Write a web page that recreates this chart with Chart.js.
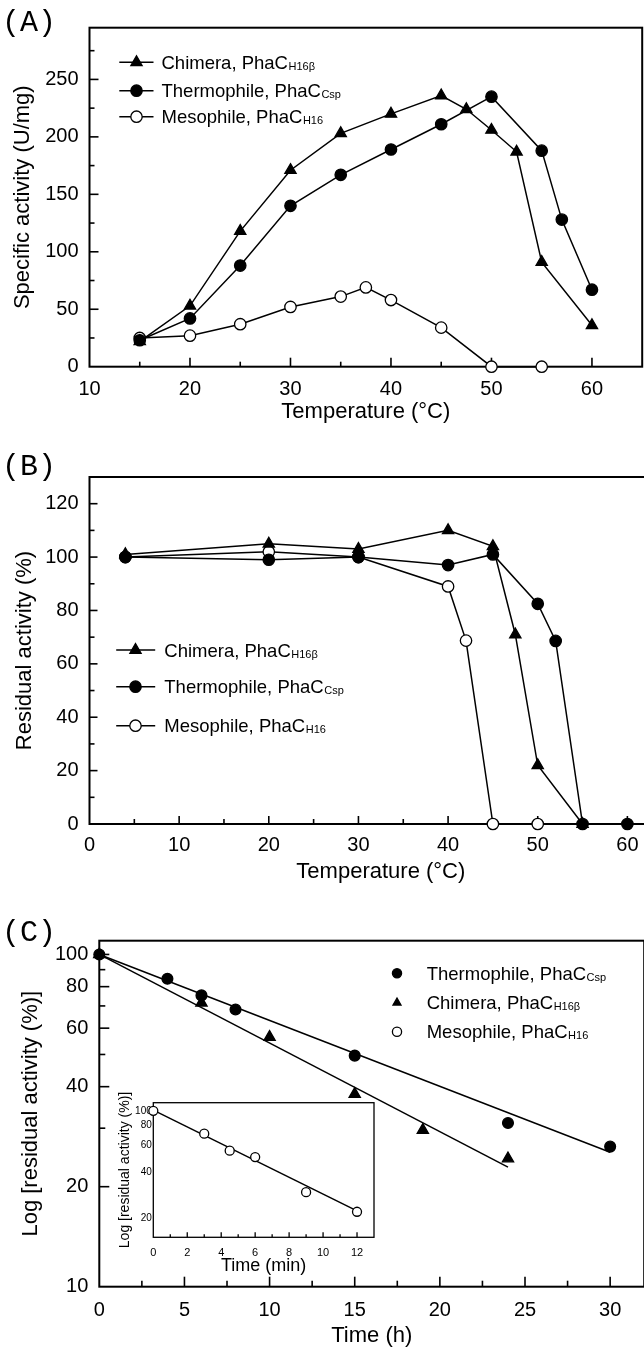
<!DOCTYPE html>
<html>
<head>
<meta charset="utf-8">
<title>PhaC activity and thermostability</title>
<script src="https://cdn.jsdelivr.net/npm/chart.js@4.4.1/dist/chart.umd.min.js"></script>
<style>
  html, body { margin: 0; padding: 0; background: #fff; }
  body { position: relative; width: 644px; height: 1349px; overflow: hidden; }
  canvas { position: absolute; left: 0; }
  .tag { position: absolute; left: 2px; font-family: "Liberation Mono", "Courier New", monospace; font-size: 30px; line-height: 30px; color: #000; }
</style>
</head>
<body>
<canvas id="chartA" width="650" height="425" style="top:0px"></canvas>
<canvas id="chartB" width="680" height="455" style="top:430px"></canvas>
<canvas id="chartC" width="652" height="449" style="top:900px"></canvas>
<canvas id="chartInset" width="300" height="190" style="top:1090px;left:90px"></canvas>
<div class="tag" style="top:8px">(A)</div>
<div class="tag" style="top:452px">(B)</div>
<div class="tag" style="top:918px">(C)</div>
<script>
const FONT = '"Liberation Sans", Arial, Helvetica, sans-serif';

// (A) specific activity (U/mg) vs temperature
const tempA_chimera = [15, 20, 25, 30, 35, 40, 45, 47.5, 50, 52.5, 55, 60];
const actA_chimera  = [22, 53, 118, 171, 203, 220, 236, 224, 206, 187, 91, 36];
const tempA_thermo  = [15, 20, 25, 30, 35, 40, 45, 50, 55, 57, 60];
const actA_thermo   = [23, 42, 88, 140, 167, 189, 211, 235, 188, 128, 67];
const tempA_meso    = [15, 20, 25, 30, 35, 37.5, 40, 45, 50, 55];
const actA_meso     = [25, 27, 37, 52, 61, 69, 58, 34, 0, 0];

// (B) residual activity (%) after heat treatment
const tempB_chimera = [4, 20, 30, 40, 45, 47.5, 50, 55];
const resB_chimera  = [101, 105, 103, 110, 104, 71, 22, 0];
const tempB_thermo  = [4, 20, 30, 40, 45, 50, 52, 55, 60];
const resB_thermo   = [100, 99, 100, 97, 101, 82.5, 68.6, 0, 0];
const tempB_meso    = [4, 20, 30, 40, 42, 45, 50];
const resB_meso     = [100, 102, 100, 89, 68.7, 0, 0];

// (C) thermal inactivation, log scale, hours
const timeC_thermo  = [0, 4, 6, 8, 15, 24, 30];
const resC_thermo   = [100, 84.5, 75.3, 68.3, 49.6, 31.1, 26.4];
const timeC_chimera = [0, 6, 10, 15, 19, 24];
const resC_chimera  = [100, 71.5, 56.4, 38, 29.6, 24.3];
const fitC_thermoX  = [0, 30];
const fitC_thermoY  = [100, 25.4];
const fitC_chimeraX = [0, 24];
const fitC_chimeraY = [100, 22.9];

// inset: mesophile, minutes
const timeIn_meso = [0, 3, 4.5, 6, 9, 12];
const resIn_meso  = [100, 71, 55, 50, 29.5, 22];
const fitIn_X = [0, 12];
const fitIn_Y = [101, 22.3];

// log axis tick labels
const ticksC_y  = [10, 20, 40, 60, 80, 100];
const ticksIn_y = [20, 40, 60, 80, 100];

const legendNames = {
    chimera: ['Chimera, PhaC', 'H16\u03B2'],
    thermo: ['Thermophile, PhaC', 'Csp'],
    meso: ['Mesophile, PhaC', 'H16']
};

const STYLE = {
    chimera: { pointStyle: 'triangle', radius: 6.5, fill: '#000' },
    thermo: { pointStyle: 'circle', radius: 5.7, fill: '#000' },
    meso: { pointStyle: 'circle', radius: 5.7, fill: '#fff' }
};

function range(a, b, step) {
    const out = [];
    for (let v = a; v <= b + 1e-9; v += step) out.push(v);
    return out;
}

function xy(xs, ys) {
    return xs.map((x, i) => ({ x: x, y: ys[i] }));
}

function series(kind, xs, ys, extra) {
    const s = STYLE[kind];
    return Object.assign({
        data: xy(xs, ys),
        borderColor: '#000',
        borderWidth: 1.5,
        pointStyle: s.pointStyle,
        pointRadius: s.radius,
        pointBackgroundColor: s.fill,
        pointBorderColor: '#000',
        pointBorderWidth: 1.3,
        showLine: true,
        tension: 0,
        fill: false,
        clip: false
    }, extra || {});
}

function fitLine(xs, ys, order) {
    return {
        data: xy(xs, ys),
        borderColor: '#000',
        borderWidth: 1.5,
        pointRadius: 0,
        showLine: true,
        tension: 0,
        fill: false,
        clip: false,
        order: order
    };
}

// same geometry as the Chart.js triangle / circle point styles
function marker(ctx, kind, x, y, r) {
    const s = STYLE[kind];
    ctx.beginPath();
    if (s.pointStyle === 'triangle') {
        let a = 0;
        ctx.moveTo(x + Math.sin(a) * r, y - Math.cos(a) * r);
        a += 2 * Math.PI / 3;
        ctx.lineTo(x + Math.sin(a) * r, y - Math.cos(a) * r);
        a += 2 * Math.PI / 3;
        ctx.lineTo(x + Math.sin(a) * r, y - Math.cos(a) * r);
        ctx.closePath();
    } else {
        ctx.arc(x, y, r, 0, Math.PI * 2);
    }
    ctx.fillStyle = s.fill;
    ctx.fill();
    ctx.strokeStyle = '#000';
    ctx.lineWidth = 1.3;
    ctx.stroke();
}

// frame, inward tick marks and the legends
const DECOR = {
    chartA: {
        frame: 2, major: 9, minor: 5,
        xMajor: range(20, 60, 10), xMinor: range(15, 55, 10),
        yMajor: range(50, 250, 50), yMinor: range(25, 275, 50),
        legend: { items: ['chimera', 'thermo', 'meso'], rows: [62.3, 90.7, 116.7],
                  lineFrom: 119.3, lineTo: 153.5, markerX: 136.5, textX: 161.5, size: 18.5, subSize: 11 }
    },
    chartB: {
        frame: 2, major: 8, minor: 5,
        xMajor: range(10, 60, 10), xMinor: range(5, 55, 10),
        yMajor: range(20, 120, 20), yMinor: range(10, 110, 20),
        legend: { items: ['chimera', 'thermo', 'meso'], rows: [220, 256.7, 295.7],
                  lineFrom: 116.2, lineTo: 155.2, markerX: 135.5, textX: 164.3, size: 18.5, subSize: 11 }
    },
    chartC: {
        frame: 2, major: 10, minor: 6,
        xMajor: range(5, 30, 5), xMinor: range(2.5, 27.5, 5),
        yMajor: [20, 40, 60, 80, 100], yMinor: [30, 50, 70, 90],
        legend: { items: ['thermo', 'chimera', 'meso'], rows: [73.3, 102.7, 131.7],
                  markerX: 397, textX: 426.7, size: 18.5, subSize: 11, radius: 4.6 }
    },
    chartInset: {
        frame: 1.3, major: 5, minor: 3, background: true,
        xMajor: range(2, 12, 2), xMinor: range(1, 11, 2),
        yMajor: [], yMinor: []
    }
};

const decorPlugin = {
    id: 'decor',
    beforeDraw(chart) {
        const d = DECOR[chart.canvas.id];
        const a = chart.chartArea;
        if (d && d.background) {
            chart.ctx.save();
            chart.ctx.fillStyle = '#fff';
            chart.ctx.fillRect(a.left, a.top, a.right - a.left, a.bottom - a.top);
            chart.ctx.restore();
        }
    },
    beforeDatasetsDraw(chart) {
        const d = DECOR[chart.canvas.id];
        if (!d) return;
        const { ctx, chartArea: a, scales } = chart;
        ctx.save();
        ctx.strokeStyle = '#000';
        ctx.lineWidth = d.frame;
        ctx.strokeRect(a.left, a.top, a.right - a.left, a.bottom - a.top);
        ctx.lineWidth = Math.min(d.frame, 1.6);
        const mark = (axis, values, len) => {
            values.forEach(v => {
                ctx.beginPath();
                if (axis === 'x') {
                    const p = scales.x.getPixelForValue(v);
                    ctx.moveTo(p, a.bottom);
                    ctx.lineTo(p, a.bottom - len);
                } else {
                    const p = scales.y.getPixelForValue(v);
                    ctx.moveTo(a.left, p);
                    ctx.lineTo(a.left + len, p);
                }
                ctx.stroke();
            });
        };
        mark('x', d.xMajor, d.major);
        mark('x', d.xMinor, d.minor);
        mark('y', d.yMajor, d.major);
        mark('y', d.yMinor, d.minor);
        ctx.restore();
    },
    afterDatasetsDraw(chart) {
        const d = DECOR[chart.canvas.id];
        if (!d || !d.legend) return;
        const L = d.legend;
        const ctx = chart.ctx;
        ctx.save();
        L.items.forEach((kind, i) => {
            const y = L.rows[i];
            if (L.lineFrom != null) {
                ctx.beginPath();
                ctx.moveTo(L.lineFrom, y);
                ctx.lineTo(L.lineTo, y);
                ctx.strokeStyle = '#000';
                ctx.lineWidth = 1.5;
                ctx.stroke();
            }
            marker(ctx, kind, L.markerX, y, L.radius || STYLE[kind].radius);
            const names = legendNames[kind];
            const base = y + L.size * 0.36;
            ctx.fillStyle = '#000';
            ctx.textAlign = 'left';
            ctx.textBaseline = 'alphabetic';
            ctx.font = L.size + 'px ' + FONT;
            ctx.fillText(names[0], L.textX, base);
            const w = ctx.measureText(names[0]).width;
            ctx.font = L.subSize + 'px ' + FONT;
            ctx.fillText(names[1], L.textX + w + 0.5, base + 1);
        });
        ctx.restore();
    }
};
Chart.register(decorPlugin);

function axisFont(size) {
    return { family: FONT, size: size };
}

function baseOptions(c) {
    const x = {
        type: 'linear', min: c.x.min, max: c.x.max,
        afterFit: s => { s.height = c.xHeight; },
        grid: { display: false, drawTicks: false },
        border: { display: false },
        ticks: { stepSize: c.x.step, includeBounds: false, padding: c.x.padding, color: '#000',
                 font: axisFont(c.x.size), maxRotation: 0, autoSkip: false },
        title: { display: true, text: c.xTitle, color: '#000', font: axisFont(c.xTitleSize),
                 padding: { top: 0, bottom: c.xTitlePad } }
    };
    const y = {
        type: c.y.log ? 'logarithmic' : 'linear', min: c.y.min, max: c.y.max,
        afterFit: s => { s.width = c.yWidth; },
        grid: { display: false, drawTicks: false },
        border: { display: false },
        ticks: { padding: c.y.padding, color: '#000', font: axisFont(c.y.size), autoSkip: false },
        title: { display: true, text: c.yTitle, color: '#000', font: axisFont(c.yTitleSize),
                 padding: { top: c.yTitlePad, bottom: 0 } }
    };
    if (c.y.log) {
        const labels = c.y.labels;
        y.afterBuildTicks = s => { s.ticks = labels.map(v => ({ value: v })); };
        y.ticks.callback = v => String(v);
    } else {
        y.ticks.stepSize = c.y.step;
        y.ticks.includeBounds = false;
    }
    return {
        responsive: false,
        animation: false,
        events: [],
        layout: { padding: Object.assign({ top: 0, right: 0, bottom: 0, left: 0 }, c.pad) },
        plugins: { legend: { display: false }, tooltip: { enabled: false } },
        scales: { x: x, y: y }
    };
}

new Chart(document.getElementById('chartA'), {
    type: 'line',
    data: { datasets: [
        series('chimera', tempA_chimera, actA_chimera, { order: 1 }),
        series('thermo', tempA_thermo, actA_thermo, { order: 2 }),
        series('meso', tempA_meso, actA_meso, { order: 3 })
    ] },
    options: baseOptions({
        pad: { top: 27.7, right: 2.6 }, yWidth: 89.5, xHeight: 58.3,
        x: { min: 10, max: 65, step: 10, padding: 11, size: 20 },
        y: { min: 0, max: 295, step: 50, padding: 11, size: 20 },
        xTitle: 'Temperature (\u00B0C)', xTitleSize: 22, xTitlePad: 0,
        yTitle: 'Specific activity (U/mg)', yTitleSize: 22, yTitlePad: 9.4
    })
});

new Chart(document.getElementById('chartB'), {
    type: 'line',
    data: { datasets: [
        series('chimera', tempB_chimera, resB_chimera, { order: 1 }),
        series('thermo', tempB_thermo, resB_thermo, { order: 2 }),
        series('meso', tempB_meso, resB_meso, { order: 3 })
    ] },
    options: baseOptions({
        pad: { top: 47, right: 3.2 }, yWidth: 89.5, xHeight: 61,
        x: { min: 0, max: 65, step: 10, padding: 9, size: 20 },
        y: { min: 0, max: 130, step: 20, padding: 11, size: 20 },
        xTitle: 'Temperature (\u00B0C)', xTitleSize: 22, xTitlePad: 0,
        yTitle: 'Residual activity (%)', yTitleSize: 22, yTitlePad: 11.4
    })
});

new Chart(document.getElementById('chartC'), {
    type: 'line',
    data: { datasets: [
        fitLine(fitC_thermoX, fitC_thermoY, 5),
        fitLine(fitC_chimeraX, fitC_chimeraY, 6),
        series('chimera', timeC_chimera, resC_chimera, { showLine: false, order: 2 }),
        series('thermo', timeC_thermo, resC_thermo, { showLine: false, order: 1, pointRadius: 5.4 })
    ] },
    options: baseOptions({
        pad: { top: 40.7, right: 1.6 }, yWidth: 99.3, xHeight: 62.3,
        x: { min: 0, max: 32, step: 5, padding: 12, size: 20 },
        y: { log: true, min: 10, max: 110, labels: ticksC_y, padding: 11, size: 20 },
        xTitle: 'Time (h)', xTitleSize: 22, xTitlePad: 0,
        yTitle: 'Log [residual activity (%)]', yTitleSize: 22, yTitlePad: 17.6
    })
});

new Chart(document.getElementById('chartInset'), {
    type: 'line',
    data: { datasets: [
        fitLine(fitIn_X, fitIn_Y, 3),
        series('meso', timeIn_meso, resIn_meso, { showLine: false, order: 1, pointRadius: 4.5 })
    ] },
    options: baseOptions({
        pad: { top: 12.7, right: 16 }, yWidth: 63.3, xHeight: 42.7,
        x: { min: 0, max: 13, step: 2, padding: 9, size: 11 },
        y: { log: true, min: 15, max: 113, labels: ticksIn_y, padding: 1.5, size: 10 },
        xTitle: 'Time (min)', xTitleSize: 18, xTitlePad: 3.5,
        yTitle: 'Log [residual activity (%)]', yTitleSize: 14, yTitlePad: 26.6
    })
});
</script>
</body>
</html>
